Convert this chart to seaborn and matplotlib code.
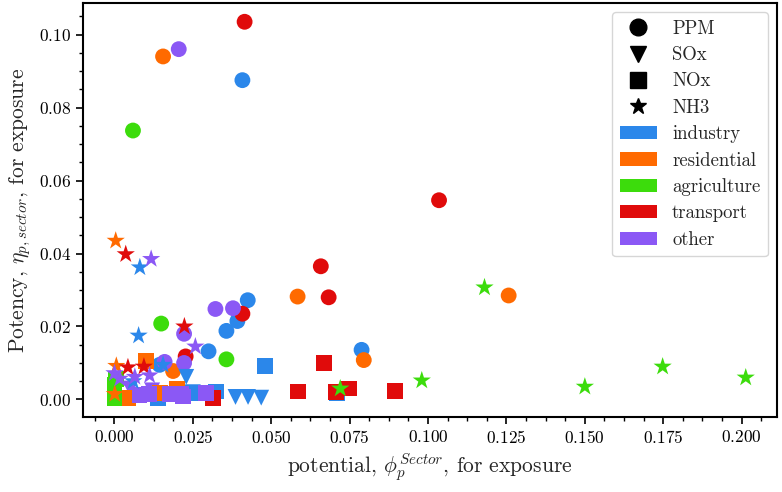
import pandas as pd
import seaborn as sns
import matplotlib.pyplot as plt
from matplotlib.lines import Line2D
from matplotlib.patches import Patch
from matplotlib.ticker import AutoMinorLocator

# sectors / pollutants
sectors = ["industry", "residential", "agriculture", "transport", "other"]
pollutants = ["PPM", "SOx", "NOx", "NH3"]
colors = ["#2b87ea", "#ff6a00", "#3cdc0c", "#e00b0b", "#8b58f5"]
markers = ["o", "v", "s", "*"]

# PPM (circles)
ppm_sector = ["industry"] * 7 + ["residential"] * 5 + ["agriculture"] * 3 + ["transport"] * 6 + ["other"] * 6
ppm_x = [0.0408, 0.0425, 0.0392, 0.0357, 0.0300, 0.0788, 0.0144,
         0.0155, 0.0584, 0.1257, 0.0795, 0.0187,
         0.0059, 0.0149, 0.0357,
         0.0415, 0.1035, 0.0658, 0.0683, 0.0408, 0.0227,
         0.0205, 0.0322, 0.0378, 0.0222, 0.0222, 0.0160]
ppm_y = [0.0875, 0.0272, 0.0215, 0.0188, 0.0132, 0.0136, 0.0095,
         0.0940, 0.0282, 0.0285, 0.0108, 0.0078,
         0.0737, 0.0208, 0.0110,
         0.1035, 0.0546, 0.0365, 0.0280, 0.0235, 0.0118,
         0.0960, 0.0248, 0.0250, 0.0180, 0.0100, 0.0103]

# SOx (triangles)
sox_sector = ["industry"] * 5 + ["other"] * 2
sox_x = [0.0229, 0.0386, 0.0426, 0.0468, 0.0250, 0.0050, 0.0120]
sox_y = [0.0062, 0.0007, 0.0007, 0.0005, 0.0020, 0.0030, 0.0025]

# NOx (squares)
nox_sector = ["industry"] * 5 + ["residential"] * 4 + ["agriculture"] * 4 + ["transport"] * 6 + ["other"] * 6
nox_x = [0.0479, 0.0325, 0.0250, 0.0139, 0.0710,
         0.0100, 0.0144, 0.0043, 0.0200,
         0.0000, 0.0000, 0.0000, 0.0005,
         0.0667, 0.0584, 0.0707, 0.0747, 0.0894, 0.0314,
         0.0080, 0.0176, 0.0213, 0.0293, 0.0219, 0.0110]
nox_y = [0.0092, 0.0022, 0.0018, 0.0005, 0.0018,
         0.0106, 0.0018, 0.0003, 0.0030,
         0.0005, 0.0020, 0.0040, 0.0055,
         0.0100, 0.0022, 0.0020, 0.0030, 0.0024, 0.0004,
         0.0012, 0.0015, 0.0014, 0.0018, 0.0008, 0.0015]

# NH3 (stars)
nh3_sector = ["industry"] * 4 + ["residential"] * 3 + ["agriculture"] * 6 + ["transport"] * 4 + ["other"] * 6
nh3_x = [0.0081, 0.0077, 0.0155, 0.0060,
         0.0004, 0.0006, 0.0001,
         0.1180, 0.0720, 0.0980, 0.1500, 0.1748, 0.2013,
         0.0036, 0.0223, 0.0043, 0.0094,
         0.0117, 0.0258, 0.0000, 0.0017, 0.0065, 0.0112]
nh3_y = [0.0362, 0.0175, 0.0095, 0.0050,
         0.0435, 0.0092, 0.0015,
         0.0307, 0.0030, 0.0052, 0.0035, 0.0090, 0.0060,
         0.0398, 0.0200, 0.0088, 0.0090,
         0.0385, 0.0145, 0.0072, 0.0057, 0.0062, 0.0066]

frames = []
for name, sec, xs, ys in [("PPM", ppm_sector, ppm_x, ppm_y),
                          ("SOx", sox_sector, sox_x, sox_y),
                          ("NOx", nox_sector, nox_x, nox_y),
                          ("NH3", nh3_sector, nh3_x, nh3_y)]:
    frames.append(pd.DataFrame({"sector": sec, "pollutant": name, "x": xs, "y": ys}))
df = pd.concat(frames, ignore_index=True)

sns.set_theme(style="ticks")
plt.rcParams.update({
    "font.family": "serif",
    "font.serif": ["cmr10"],
    "mathtext.fontset": "cm",
    "axes.formatter.use_mathtext": True,
    "axes.linewidth": 1.5,
    "axes.edgecolor": "black",
    "xtick.color": "black",
    "ytick.color": "black",
    "xtick.major.size": 5,
    "ytick.major.size": 5,
    "xtick.minor.size": 3,
    "ytick.minor.size": 3,
    "xtick.major.width": 1.2,
    "ytick.major.width": 1.2,
    "xtick.minor.width": 1.0,
    "ytick.minor.width": 1.0,
})

fig, ax = plt.subplots(figsize=(7.82, 4.92), dpi=100)
fig.subplots_adjust(left=0.106, right=0.994, top=0.994, bottom=0.152)

sns.scatterplot(data=df, x="x", y="y", hue="sector", style="pollutant",
                size="pollutant",
                sizes={"PPM": 130, "SOx": 130, "NOx": 130, "NH3": 190},
                hue_order=sectors, style_order=pollutants,
                palette=dict(zip(sectors, colors)),
                markers=dict(zip(pollutants, markers)),
                linewidth=0, alpha=1, legend=False, ax=ax)

ax.xaxis.set_minor_locator(AutoMinorLocator(4))
ax.yaxis.set_minor_locator(AutoMinorLocator(4))
ax.tick_params(axis="both", which="major", labelsize=12.5)
ax.set_xlabel(r"potential, $\phi_p^{Sector}$, for exposure", fontsize=15.5)
ax.set_ylabel(r"Potency, $\eta_{p,sector}$, for exposure", fontsize=15.5)

handles = [Line2D([], [], marker=m, color="black", linestyle="None", markersize=12)
           for m in markers]
handles += [Patch(facecolor=c, edgecolor="none") for c in colors]
ax.legend(handles, pollutants + sectors, loc="upper right", fontsize=13.5,
          frameon=True, fancybox=True, edgecolor="0.8", framealpha=0.8,
          labelspacing=0.45)

fig.savefig("out.png", dpi=100)
